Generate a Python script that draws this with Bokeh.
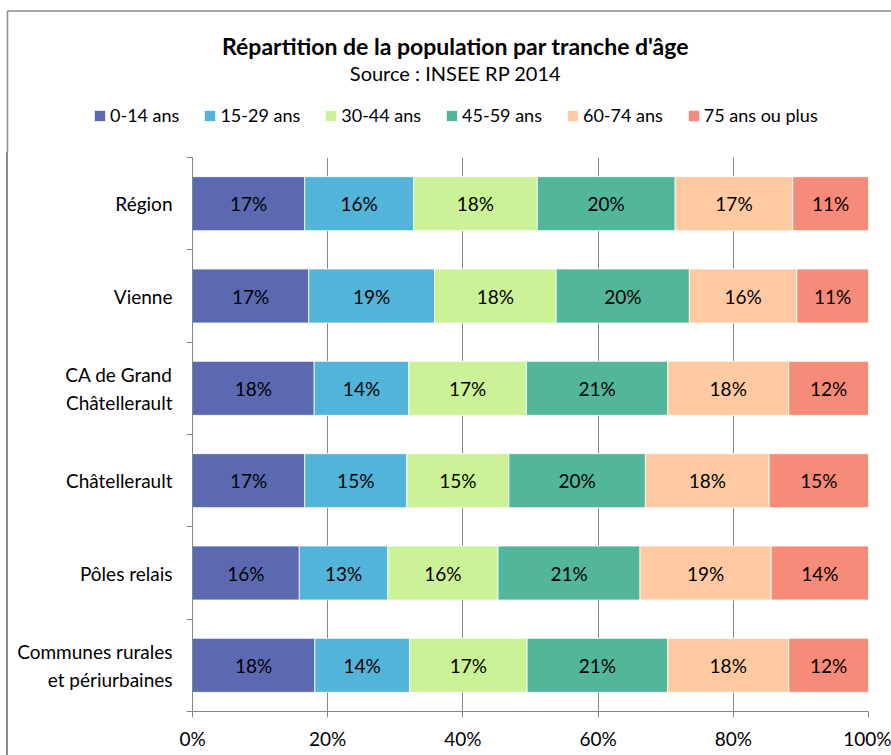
from bokeh.plotting import figure
from bokeh.layouts import column, row
from bokeh.models import (ColumnDataSource, Range1d, FixedTicker, NumeralTickFormatter,
                          Label, Legend, LegendItem, Div)
from bokeh.core.properties import value
from bokeh.embed import file_html
from bokeh.resources import INLINE

# ---------------- data ----------------
categories = ["Région", "Vienne", "CA de Grand\nChâtellerault", "Châtellerault",
              "Pôles relais", "Communes rurales\net périurbaines"]
age_groups = ["0-14 ans", "15-29 ans", "30-44 ans", "45-59 ans", "60-74 ans", "75 ans ou plus"]
colors = ["#5B6AB0", "#52B4D8", "#CCF297", "#52B69B", "#FFCAA2", "#F68B79"]

pct_0_14 = [16.6, 17.2, 18.0, 16.6, 15.8, 18.1]
pct_15_29 = [16.1, 18.6, 14.0, 15.1, 13.1, 14.0]
pct_30_44 = [18.3, 18.0, 17.4, 15.1, 16.3, 17.4]
pct_45_59 = [20.4, 19.7, 20.9, 20.2, 21.0, 20.8]
pct_60_74 = [17.4, 15.9, 17.9, 18.3, 19.4, 17.9]
pct_75_plus = [11.2, 10.6, 11.8, 14.7, 14.4, 11.8]

x_ticks = [0, 0.2, 0.4, 0.6, 0.8, 1.0]
title_text = "Répartition de la population par tranche d'âge"
subtitle_text = "Source : INSEE RP 2014"

series = [pct_0_14, pct_15_29, pct_30_44, pct_45_59, pct_60_74, pct_75_plus]
keys = ["g0", "g1", "g2", "g3", "g4", "g5"]
n = len(categories)
ys = [n - i - 0.5 for i in range(n)]

data = {"y": ys}
for k, s in zip(keys, series):
    data[k] = [v / 100.0 for v in s]
src = ColumnDataSource(data)

lx, ly, lt = [], [], []
for i in range(n):
    left = 0.0
    for s in series:
        w = s[i] / 100.0
        lx.append(left + w / 2)
        ly.append(ys[i])
        lt.append(f"{int(round(s[i]))}%")
        left += w
lab_src = ColumnDataSource(dict(x=lx, y=ly, t=lt))

FONT = "Lato"
GRAY = "#868686"
BORDER = "#8c8c8c"
W = 891
TOP_H = 152
MAIN_H = 755 - TOP_H
STRIP_W = 8
FS = "19px"

# ---------------- header (title, subtitle, legend) ----------------
ph = figure(width=W, height=TOP_H, output_backend="svg", toolbar_location=None,
            x_range=Range1d(0, W), y_range=Range1d(TOP_H, 0),
            x_axis_location=None, y_axis_location=None,
            min_border_left=0, min_border_right=0, min_border_top=0, min_border_bottom=0)
ph.title = None
ph.grid.visible = False
ph.outline_line_color = None
ph.background_fill_color = "white"
ph.border_fill_color = "white"
ph.frame_align = False

# chart-area border (top and left edges)
ph.segment(x0=[7, 7], y0=[10.5, 10.5], x1=[W + 5, 7], y1=[10.5, TOP_H + 5],
           line_color=BORDER, line_width=1.5)

ph.add_layout(Label(x=455, y=45, text=title_text, text_align="center",
                    text_baseline="middle", text_font=FONT, text_font_style="bold",
                    text_font_size="23px", text_color="#000000"))
ph.add_layout(Label(x=455, y=72, text=subtitle_text, text_align="center",
                    text_baseline="middle", text_font=FONT,
                    text_font_size="20px", text_color="#000000"))

nan = float("nan")
items = []
for g, c in zip(age_groups, colors):
    r = ph.hbar(y=[nan], right=[nan], height=1, fill_color=c, line_color=None)
    items.append(LegendItem(label=g, renderers=[r]))
lg = Legend(items=items, orientation="horizontal", location=(93, 26),
            padding=0, margin=0, spacing=24, glyph_width=13, glyph_height=13,
            label_standoff=4, label_height=22, label_text_font=FONT,
            label_text_font_size="18px", label_text_color="#000000",
            border_line_color=None, background_fill_alpha=0)
ph.add_layout(lg, "center")

# ---------------- left border strip ----------------
strip = Div(
    text=(f'<div style="position:absolute;left:6.25px;top:0;width:1.5px;'
          f'height:{MAIN_H}px;background-color:{BORDER};"></div>'),
    width=STRIP_W, height=MAIN_H, margin=0,
    styles={"position": "relative", "overflow": "visible", "margin": "0", "padding": "0"})

# ---------------- main chart ----------------
p = figure(width=W - STRIP_W, height=MAIN_H, output_backend="svg", toolbar_location=None,
           x_range=Range1d(0, 1), y_range=Range1d(0, n),
           min_border_left=192 - STRIP_W, min_border_right=23, min_border_top=5,
           min_border_bottom=44)
p.title = None
p.outline_line_color = None
p.background_fill_color = "white"
p.border_fill_color = "white"
p.frame_align = False

p.hbar_stack(keys, y="y", height=0.585, color=colors, line_color="white", line_width=0.8,
             source=src)

p.text(x="x", y="y", text="t", source=lab_src, text_font=value(FONT),
       text_font_size=FS, text_align="center", text_baseline="middle",
       text_color="#000000")

xa = p.xaxis[0]
xa.ticker = FixedTicker(ticks=x_ticks)
xa.formatter = NumeralTickFormatter(format="0%")
xa.axis_line_color = GRAY
xa.major_tick_line_color = GRAY
xa.major_tick_out = 6
xa.major_tick_in = 0
xa.minor_tick_line_color = None
xa.major_label_standoff = 9
xa.major_label_text_font = FONT
xa.major_label_text_font_size = FS
xa.major_label_text_color = "#000000"

ya = p.yaxis[0]
ya.ticker = FixedTicker(ticks=ys, minor_ticks=list(range(n + 1)))
ya.major_label_overrides = {y: c for y, c in zip(ys, categories)}
ya.axis_line_color = GRAY
ya.major_tick_out = 0
ya.major_tick_in = 0
ya.minor_tick_out = 6
ya.minor_tick_in = 0
ya.minor_tick_line_color = GRAY
ya.major_label_standoff = 14
ya.major_label_text_font = FONT
ya.major_label_text_font_size = FS
ya.major_label_text_color = "#000000"

p.xgrid.ticker = FixedTicker(ticks=x_ticks)
p.xgrid.grid_line_color = GRAY
p.ygrid.visible = False

layout = column(ph, row(strip, p, spacing=0), spacing=0)

open("out.html", "w").write(file_html(layout, INLINE))
